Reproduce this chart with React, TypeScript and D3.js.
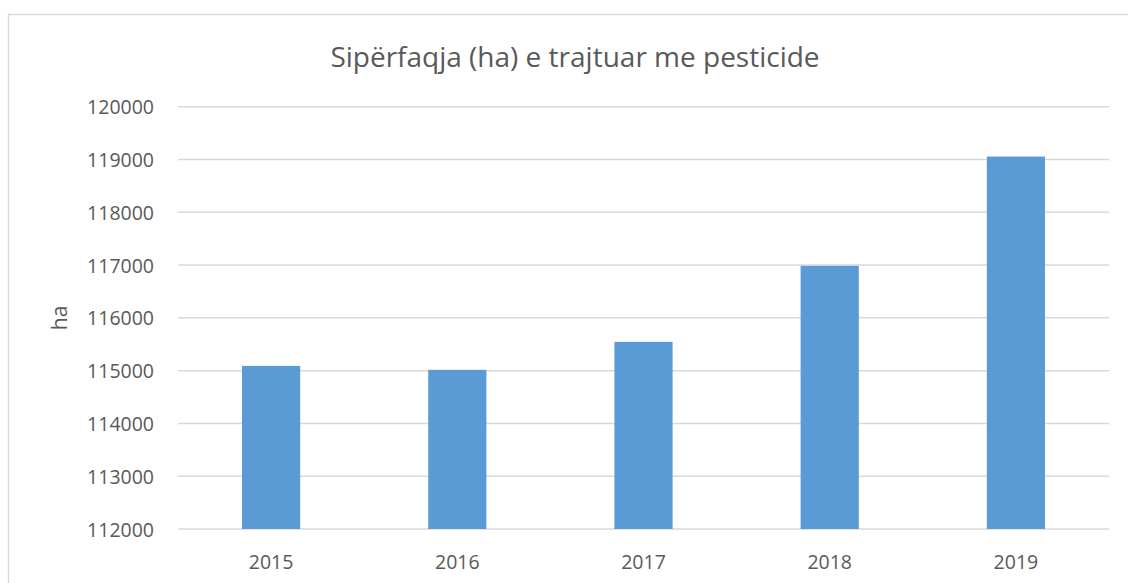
import React, { useEffect, useRef } from "react";
import * as d3 from "d3";

const years = ["2015", "2016", "2017", "2018", "2019"];
const areaHa = [115090, 115015, 115545, 116985, 119055];
const yTicks = [112000, 113000, 114000, 115000, 116000, 117000, 118000, 119000, 120000];

const W = 1128;
const H = 583;

export default function App() {
    const ref = useRef<SVGSVGElement>(null);

    useEffect(() => {
        const svg = d3.select(ref.current);
        svg.selectAll("*").remove();

        const font = "'Open Sans', 'Liberation Sans', sans-serif";
        const textColor = "#595959";

        // chart frame (runs off the right and bottom edges)
        svg.append("rect")
            .attr("x", 8.5).attr("y", 14.5)
            .attr("width", 1300).attr("height", 800)
            .attr("fill", "#fff")
            .attr("stroke", "#d9d9d9").attr("stroke-width", 1.5);

        const x = d3.scaleBand()
            .domain(years)
            .range([178, 1109])
            .paddingInner(0.6875)
            .paddingOuter(0.34375);

        const y = d3.scaleLinear()
            .domain([112000, 120000])
            .range([529, 106.7]);

        // gridlines
        svg.append("g")
            .selectAll("line")
            .data(yTicks)
            .enter()
            .append("line")
            .attr("x1", 178).attr("x2", 1109)
            .attr("y1", (d) => y(d)).attr("y2", (d) => y(d))
            .attr("stroke", "#d9d9d9").attr("stroke-width", 1.5);

        // y tick labels
        svg.append("g")
            .selectAll("text")
            .data(yTicks)
            .enter()
            .append("text")
            .attr("x", 154)
            .attr("y", (d) => y(d))
            .attr("text-anchor", "end")
            .attr("dominant-baseline", "central")
            .style("font-family", font).style("font-size", "19.5px")
            .style("fill", textColor)
            .text((d) => String(d));

        // bars
        svg.append("g")
            .selectAll("rect")
            .data(areaHa)
            .enter()
            .append("rect")
            .attr("x", (_, i) => x(years[i]) as number)
            .attr("width", x.bandwidth())
            .attr("y", (d) => y(d))
            .attr("height", (d) => y(112000) - y(d))
            .attr("fill", "#5b9bd5");

        // x labels
        svg.append("g")
            .selectAll("text")
            .data(years)
            .enter()
            .append("text")
            .attr("x", (d) => (x(d) as number) + x.bandwidth() / 2)
            .attr("y", 561)
            .attr("text-anchor", "middle")
            .attr("dominant-baseline", "central")
            .style("font-family", font).style("font-size", "19.5px")
            .style("fill", textColor)
            .text((d) => d);

        // axis title
        svg.append("text")
            .attr("transform", `translate(59, ${(y(112000) + y(120000)) / 2}) rotate(-90)`)
            .attr("text-anchor", "middle")
            .attr("dominant-baseline", "central")
            .style("font-family", font).style("font-size", "21px")
            .style("fill", textColor)
            .text("ha");

        // title
        svg.append("text")
            .attr("x", 575).attr("y", 56)
            .attr("text-anchor", "middle")
            .attr("dominant-baseline", "central")
            .style("font-family", font).style("font-size", "28px")
            .style("fill", textColor)
            .text("Sipërfaqja (ha) e trajtuar me pesticide");
    }, []);

    return (
        <svg
            ref={ref}
            width={W}
            height={H}
            style={{ position: "absolute", left: 0, top: 0, overflow: "hidden", background: "#fff" }}
        />
    );
}
